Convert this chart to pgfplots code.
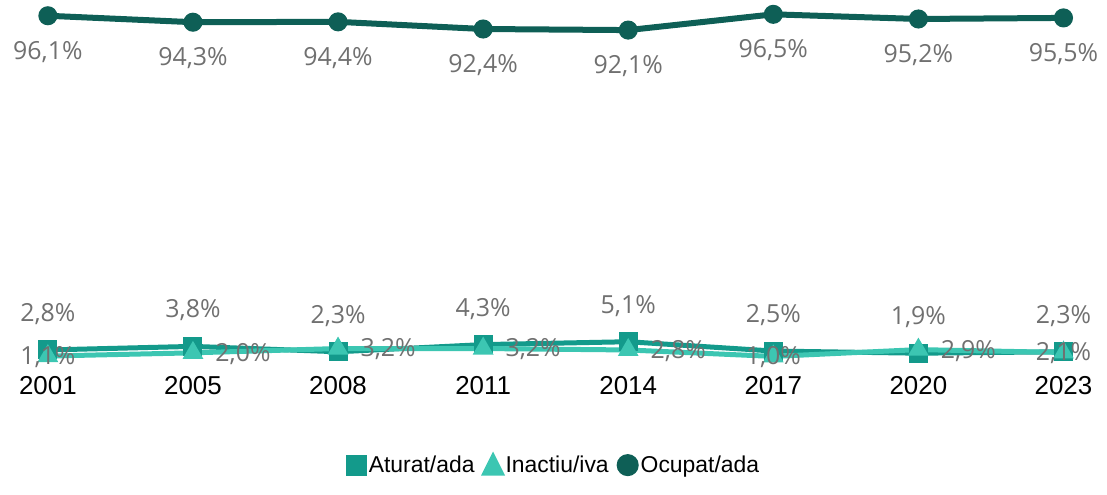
\documentclass[border=0pt]{standalone}
\usepackage{pgfplots}
\pgfplotsset{compat=1.18}
\usepackage{pgfplotstable}
\usepackage{fontspec}
\setmainfont{Liberation Sans}
\newfontfamily\lblfont{Open Sans}
\definecolor{cOcup}{HTML}{0E5F56}
\definecolor{cAtur}{HTML}{139A8B}
\definecolor{cInac}{HTML}{3CC6B2}
\definecolor{cLbl}{HTML}{707070}

\pgfplotstableread{
x ocup atur inac dx
0 96.1 2.8 1.1 0
1 94.3 3.8 2.0 50
2 94.4 2.3 3.2 50
3 92.4 4.3 3.2 50
4 92.1 5.1 2.8 50
5 96.5 2.5 1.0 0
6 95.2 1.9 2.9 50
7 95.5 2.3 2.1 0
}\data

\begin{document}
\begin{tikzpicture}
\useasboundingbox (0,0) rectangle (1107bp,495bp);
\begin{axis}[
  at={(0bp,135bp)}, anchor=south west,
  scale only axis, width=1107bp, height=360bp,
  xmin=-0.33, xmax=7.3, ymin=0, ymax=100.5,
  clip=false,
  axis line style={draw=none},
  ytick=\empty,
  xtick={0,...,7},
  xticklabels={2001,2005,2008,2011,2014,2017,2020,2023},
  major tick length=0pt,
  xticklabel style={font=\fontsize{26}{30}\selectfont, text=black, yshift=-13bp},
  legend style={at={(0.5,-0.292)}, anchor=center, draw=none, fill=none,
    font=\fontsize{23}{28}\selectfont, legend columns=3,
    /tikz/every even column/.append style={column sep=6bp}},
  legend cell align=left,
  nodes near coords={\pgfmathprintnumber[use comma,fixed,fixed zerofill,precision=1,assume math mode=true]{\pgfplotspointmeta}\%},
  every node near coord/.append style={font=\lblfont\fontsize{25}{30}\selectfont, text=cLbl, anchor=center},
]
\addplot[cAtur, line width=5bp, mark=square*, mark size=7bp,
  mark options={fill=cAtur, draw=cAtur},
  nodes near coords style={yshift=36bp},
  legend image code/.code={\fill[cAtur] (-2bp,-8bp) rectangle (14bp,8bp);}]
  table[x=x, y=atur, meta=atur] {\data};
\addlegendentry{Aturat/ada}
\addplot[cInac, line width=5bp, mark=triangle*, mark size=7bp,
  mark options={fill=cInac, draw=cInac},
  visualization depends on={\thisrow{dx} \as \dx},
  nodes near coords style={xshift=\dx bp, yshift=-1bp},
  legend image code/.code={\fill[cInac] (-2bp,-8bp) -- (14bp,-8bp) -- (6bp,8bp) -- cycle;}]
  table[x=x, y=inac, meta=inac] {\data};
\addlegendentry{Inactiu/iva}
\addplot[cOcup, line width=6bp, mark=*, mark size=6.5bp,
  mark options={fill=cOcup, draw=cOcup},
  nodes near coords style={yshift=-36bp},
  legend image code/.code={\fill[cOcup] (6bp,0bp) circle (8bp);}]
  table[x=x, y=ocup, meta=ocup] {\data};
\addlegendentry{Ocupat/ada}
\end{axis}
\end{tikzpicture}
\end{document}
